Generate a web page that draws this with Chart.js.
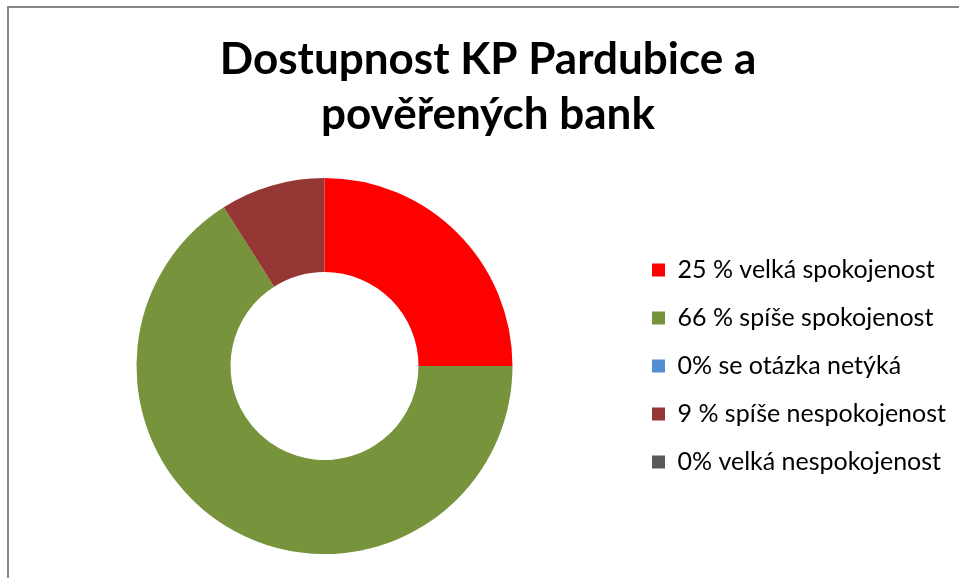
<!DOCTYPE html>
<html>
<head>
<meta charset="utf-8">
<script src="https://cdn.jsdelivr.net/npm/chart.js@4"></script>
<style>
    html, body { margin: 0; padding: 0; background: #fff; overflow: hidden; }
    .frame {
        position: absolute; left: 7px; top: 6px; width: 1000px; height: 700px;
        border-left: 2px solid #878787; border-top: 2px solid #878787;
    }
    #wrap { position: absolute; left: 0; top: 0; width: 959px; height: 578px; }
</style>
</head>
<body>
<div class="frame"></div>
<div id="wrap"><canvas id="myChart" width="959" height="578"></canvas></div>
<script>
const categories = [
    '25 % velká spokojenost',
    '66 % spíše spokojenost',
    '0% se otázka netýká',
    '9 % spíše nespokojenost',
    '0% velká nespokojenost'
];
const values = [25, 66, 0, 9, 0];
const colors = ['#FF0000', '#77933C', '#558ED5', '#953735', '#595959'];
const titleLines = ['Dostupnost KP Pardubice a', 'pověřených bank'];

document.addEventListener('DOMContentLoaded', () => {
    const ctx = document.getElementById('myChart').getContext('2d');

    new Chart(ctx, {
        type: 'doughnut',
        data: {
            labels: categories,
            datasets: [{
                data: values,
                backgroundColor: colors,
                borderWidth: 0,
                hoverOffset: 0
            }]
        },
        options: {
            responsive: false,
            animation: false,
            cutout: '50%',
            layout: {
                padding: { left: 20, right: 3, top: 0, bottom: 24 }
            },
            plugins: {
                title: {
                    display: true,
                    text: titleLines,
                    color: '#000',
                    font: { family: 'Lato', size: 44, weight: 'bold', lineHeight: 1.25 },
                    padding: { top: 32, bottom: 36 }
                },
                legend: {
                    position: 'right',
                    fullSize: false,
                    labels: {
                        color: '#000',
                        font: { family: 'Lato', size: 25 },
                        boxWidth: 13,
                        boxHeight: 13,
                        padding: 23
                    }
                },
                tooltip: { enabled: false }
            }
        }
    });
});
</script>
</body>
</html>
